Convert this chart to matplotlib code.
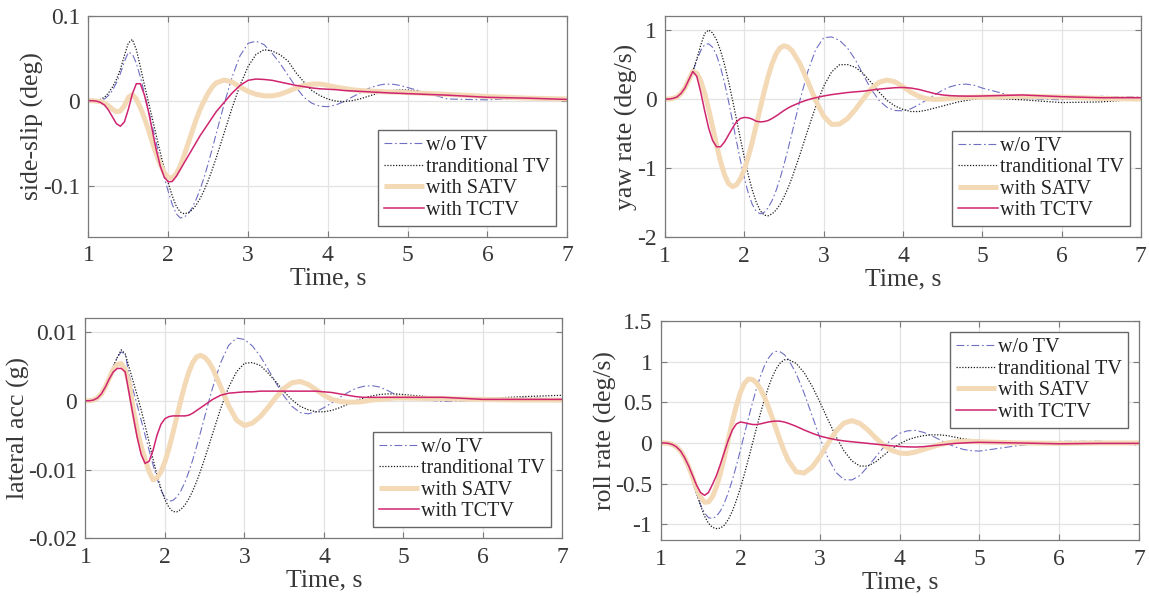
import numpy as np
import matplotlib
matplotlib.use('Agg')
import matplotlib.pyplot as plt

plt.rcParams['font.family'] = ['Liberation Serif', 'DejaVu Serif']

# time grid of the read-off points (s)
t = np.concatenate([np.round(np.arange(1.0, 2.601, 0.05), 2),
                    np.round(np.arange(2.7, 5.001, 0.1), 2),
                    [5.5, 6.0, 6.5, 7.0]])

labels = ['w/o TV', 'tranditional TV', 'with SATV', 'with TCTV']

# side-slip (deg)
slip_wo = [0, 0, 0, 0.0005, 0.002, 0.006, 0.012, 0.021, 0.032, 0.046,
           0.057, 0.055, 0.044, 0.028, 0.009, -0.010, -0.030, -0.050, -0.070, -0.090,
           -0.107, -0.122, -0.133, -0.138, -0.137, -0.133, -0.126, -0.116, -0.104, -0.090,
           -0.074, -0.057, -0.039,
           -0.004, 0.028, 0.053, 0.0675, 0.070, 0.066, 0.056, 0.044, 0.030, 0.016,
           0.004, -0.003, -0.0065, -0.007, -0.005, -0.001, 0.004, 0.009, 0.014, 0.0175,
           0.0193, 0.0196, 0.018, 0.0155,
           0.002, 0.001, 0.003, 0.002]
slip_trad = [0, 0, 0.0005, 0.0015, 0.004, 0.009, 0.016, 0.025, 0.037, 0.053,
             0.068, 0.072, 0.060, 0.040, 0.019, -0.001, -0.021, -0.041, -0.061, -0.080,
             -0.097, -0.112, -0.124, -0.131, -0.133, -0.1318, -0.1284, -0.1227, -0.1149, -0.1053,
             -0.094, -0.0812, -0.0674,
             -0.038, -0.0084, 0.0184, 0.0402, 0.0545, 0.060, 0.0586, 0.0541, 0.0468, 0.033,
             0.022, 0.012, 0.006, 0.002, -0.0005, -0.001, 0.000, 0.002, 0.005, 0.008,
             0.0105, 0.012, 0.0126, 0.0126,
             0.007, 0.003, 0.002, 0.002]
slip_satv = [0, 0, -0.0005, -0.001, -0.003, -0.006, -0.010, -0.013, -0.012, -0.006,
             0.004, 0.007, 0.002, -0.008, -0.020, -0.034, -0.049, -0.063, -0.075, -0.085,
             -0.090, -0.0912, -0.086, -0.077, -0.064, -0.050, -0.036, -0.022, -0.010, 0.000,
             0.009, 0.016, 0.021,
             0.0243, 0.022, 0.016, 0.011, 0.0075, 0.0058, 0.0056, 0.0075, 0.011, 0.015,
             0.018, 0.0195, 0.0196, 0.018, 0.016, 0.0145, 0.013, 0.012, 0.0115, 0.011,
             0.0105, 0.0102, 0.010, 0.0095,
             0.0075, 0.005, 0.003, 0.002]
slip_tctv = [0, 0, -0.0005, -0.002, -0.005, -0.011, -0.019, -0.027, -0.030, -0.025,
             -0.010, 0.008, 0.020, 0.020, 0.007, -0.012, -0.035, -0.058, -0.077, -0.090,
             -0.0955, -0.095, -0.089, -0.081, -0.073, -0.065, -0.057, -0.049, -0.041, -0.034,
             -0.027, -0.020, -0.013,
             -0.002, 0.009, 0.018, 0.024, 0.0255, 0.025, 0.024, 0.022, 0.020, 0.018,
             0.0165, 0.015, 0.014, 0.0135, 0.013, 0.012, 0.0115, 0.011, 0.0105, 0.010,
             0.0095, 0.009, 0.0087, 0.0083,
             0.0065, 0.004, 0.003, 0.0015]

# yaw rate (deg/s)
yaw_wo = [0, 0, 0.005, 0.02, 0.06, 0.13, 0.25, 0.40, 0.56, 0.70,
          0.79, 0.80, 0.75, 0.635, 0.46, 0.235, -0.027, -0.313, -0.605, -0.886,
          -1.143, -1.361, -1.524, -1.625, -1.66, -1.638, -1.573, -1.467, -1.325, -1.149,
          -0.948, -0.727, -0.494,
          -0.023, 0.399, 0.717, 0.888, 0.90, 0.85, 0.74, 0.57, 0.35, 0.14,
          -0.02, -0.12, -0.165, -0.17, -0.14, -0.08, -0.01, 0.06, 0.13, 0.18,
          0.21, 0.217, 0.20, 0.16,
          0.01, -0.01, 0.04, 0.03]
yaw_trad = [0, 0, 0.005, 0.02, 0.06, 0.13, 0.24, 0.40, 0.58, 0.78,
            0.95, 1.00, 0.957, 0.856, 0.702, 0.500, 0.261, -0.006, -0.287, -0.572,
            -0.846, -1.099, -1.316, -1.490, -1.614, -1.679, -1.689, -1.661, -1.606, -1.524,
            -1.417, -1.289, -1.141,
            -0.806, -0.449, -0.107, 0.184, 0.393, 0.497, 0.50, 0.46, 0.37, 0.24,
            0.10, -0.02, -0.10, -0.15, -0.18, -0.18, -0.16, -0.13, -0.10, -0.07,
            -0.04, -0.02, 0.0, 0.02,
            -0.01, -0.05, -0.04, 0.0]
yaw_satv = [0, 0, 0.01, 0.03, 0.08, 0.16, 0.28, 0.40, 0.374, 0.264,
            0.085, -0.146, -0.404, -0.666, -0.904, -1.096, -1.221, -1.267, -1.241, -1.156,
            -1.018, -0.835, -0.618, -0.379, -0.132, 0.109, 0.328, 0.513, 0.653, 0.741,
            0.771, 0.754, 0.703,
            0.516, 0.254, -0.022, -0.246, -0.365, -0.362, -0.283, -0.151, 0.004, 0.147,
            0.245, 0.275, 0.25, 0.18, 0.10, 0.04, 0.005, -0.005, 0.0, 0.01,
            0.02, 0.025, 0.027, 0.03,
            0.04, 0.03, 0.01, 0.0]
yaw_tctv = [0, 0, 0.01, 0.03, 0.08, 0.16, 0.28, 0.40, 0.33, 0.10,
            -0.17, -0.42, -0.60, -0.69, -0.69, -0.62, -0.52, -0.42, -0.33, -0.28,
            -0.265, -0.27, -0.29, -0.32, -0.33, -0.325, -0.31, -0.28, -0.245, -0.205,
            -0.165, -0.13, -0.10,
            -0.05, -0.01, 0.02, 0.045, 0.065, 0.08, 0.095, 0.105, 0.115, 0.13,
            0.145, 0.155, 0.165, 0.168, 0.16, 0.14, 0.11, 0.08, 0.06, 0.05,
            0.045, 0.043, 0.043, 0.045,
            0.06, 0.035, 0.02, 0.02]

# lateral acc (g)
acc_wo = [0, 0, 0.0001, 0.0004, 0.0010, 0.0020, 0.0034, 0.0050, 0.0063, 0.0071,
          0.0068, 0.0037, 0.0015, -0.0006, -0.0028, -0.0050, -0.0072, -0.0093, -0.0113, -0.0130,
          -0.0141, -0.0146, -0.01448, -0.01397, -0.01309, -0.01186, -0.01033, -0.00855, -0.00656, -0.00446,
          -0.0023, -0.00014, 0.00192,
          0.00552, 0.00804, 0.00912, 0.00891, 0.00797, 0.00645, 0.00454, 0.00251, 0.00063, -0.00084,
          -0.00171, -0.0019, -0.0016, -0.0010, -0.0003, 0.0005, 0.0012, 0.0018, 0.0021, 0.0022,
          0.0020, 0.0015, 0.0009, 0.0004,
          -0.0001, 0.0001, 0.0004, 0.0003]
acc_trad = [0, 0, 0.0001, 0.0004, 0.0010, 0.0020, 0.0034, 0.0050, 0.0063, 0.0074,
            0.0068, 0.0048, 0.0028, 0.0008, -0.0013, -0.0036, -0.0060, -0.0085, -0.0108, -0.0128,
            -0.0144, -0.0155, -0.0161, -0.01614, -0.0158, -0.01517, -0.01425, -0.01307, -0.01168, -0.0101,
            -0.00839, -0.00659, -0.00475,
            -0.00116, 0.00195, 0.00421, 0.00545, 0.00555, 0.00512, 0.0040, 0.0027, 0.0013, 0.0001,
            -0.0008, -0.0013, -0.0016, -0.0016, -0.0014, -0.0010, -0.0005, 0.0000, 0.0004, 0.0007,
            0.0009, 0.0010, 0.0010, 0.0009,
            0.0004, 0.0003, 0.0006, 0.0008]
acc_satv = [0, 0, 0.0001, 0.0004, 0.0010, 0.0020, 0.0033, 0.0046, 0.0053, 0.0054,
            0.0045, 0.0025, -0.0012, -0.0042, -0.0066, -0.0085, -0.0103, -0.0115, -0.0112, -0.01031,
            -0.00884, -0.00692, -0.00468, -0.00228, 0.00011, 0.00231, 0.00417, 0.00557, 0.0064, 0.0066,
            0.00631, 0.00566, 0.00468,
            0.00207, -0.00071, -0.00282, -0.0036, -0.00325, -0.00229, -0.00092, 0.00056, 0.00183, 0.00263,
            0.0028, 0.0024, 0.0016, 0.0008, 0.0002, -0.0001, -0.0002, -0.0002, -0.0001, 0.0001,
            0.0002, 0.0003, 0.0004, 0.0004,
            0.0003, 0.0002, 0.0001, 0.0001]
acc_tctv = [0, 0, 0.0001, 0.0004, 0.0010, 0.0020, 0.0032, 0.0042, 0.0047, 0.0047,
            0.0042, 0.0010, -0.0022, -0.0053, -0.0078, -0.0091, -0.0088, -0.0072, -0.0050, -0.0034,
            -0.0026, -0.0023, -0.0022, -0.0022, -0.0022, -0.0022, -0.0021, -0.0018, -0.0014, -0.0010,
            -0.0006, -0.0002, 0.0002,
            0.0008, 0.0011, 0.0012, 0.0013, 0.0013, 0.0014, 0.0014, 0.0014, 0.0014, 0.0014,
            0.0014, 0.0014, 0.0014, 0.0013, 0.0012, 0.0010, 0.0008, 0.0006, 0.0005, 0.0005,
            0.0005, 0.0005, 0.0005, 0.0005,
            0.0005, 0.0002, 0.0002, 0.0002]

# roll rate (deg/s)
roll_wo = [0, 0, -0.005, -0.02, -0.05, -0.11, -0.20, -0.32, -0.47, -0.62,
           -0.76, -0.86, -0.92, -0.93, -0.902, -0.836, -0.737, -0.607, -0.453, -0.278,
           -0.089, 0.107, 0.302, 0.490, 0.663, 0.817, 0.945, 1.042, 1.104, 1.129,
           1.122, 1.089, 1.033,
           0.856, 0.613, 0.335, 0.057, -0.186, -0.363, -0.452, -0.455, -0.40, -0.29,
           -0.17, -0.05, 0.05, 0.12, 0.15, 0.155, 0.13, 0.09, 0.04, -0.01,
           -0.05, -0.08, -0.095, -0.10,
           -0.03, 0.02, 0.02, -0.03]
roll_trad = [0, 0, -0.005, -0.02, -0.05, -0.11, -0.20, -0.32, -0.47, -0.62,
             -0.77, -0.90, -0.99, -1.04, -1.055, -1.049, -1.011, -0.940, -0.838, -0.708,
             -0.555, -0.384, -0.202, -0.0125, 0.177, 0.359, 0.530, 0.683, 0.813, 0.915,
             0.986, 1.024, 1.029,
             0.980, 0.866, 0.700, 0.499, 0.284, 0.078, -0.097, -0.222, -0.284, -0.285,
             -0.23, -0.15, -0.07, -0.01, 0.04, 0.07, 0.09, 0.10, 0.10, 0.09,
             0.07, 0.05, 0.04, 0.03,
             -0.01, 0.0, 0.02, 0.0]
roll_satv = [0, 0, -0.005, -0.02, -0.05, -0.10, -0.18, -0.29, -0.42, -0.56,
             -0.67, -0.73, -0.726, -0.661, -0.539, -0.370, -0.169, 0.0495, 0.265, 0.462,
             0.622, 0.734, 0.787, 0.782, 0.742, 0.670, 0.570, 0.448, 0.311, 0.169,
             0.028, -0.102, -0.213,
             -0.355, -0.370, -0.298, -0.165, -0.0042, 0.145, 0.246, 0.275, 0.24, 0.16,
             0.06, -0.03, -0.09, -0.125, -0.13, -0.11, -0.08, -0.05, -0.02, 0.0,
             0.015, 0.02, 0.02, 0.015,
             0.0, -0.005, 0.0, 0.0]
roll_tctv = [0, 0, -0.005, -0.02, -0.05, -0.10, -0.18, -0.28, -0.40, -0.52,
             -0.61, -0.645, -0.61, -0.51, -0.40, -0.26, -0.11, 0.04, 0.16, 0.235,
             0.258, 0.25, 0.238, 0.228, 0.227, 0.235, 0.247, 0.258, 0.266, 0.27,
             0.268, 0.258, 0.243,
             0.205, 0.16, 0.12, 0.085, 0.06, 0.04, 0.025, 0.015, 0.005, -0.005,
             -0.015, -0.025, -0.035, -0.043, -0.048, -0.05, -0.045, -0.035, -0.025, -0.015,
             -0.005, 0.0, 0.005, 0.008,
             0.0, -0.01, -0.005, -0.005]

panels = [
    dict(series=[slip_wo, slip_trad, slip_satv, slip_tctv], ylabel='side-slip (deg)',
         ylim=(-0.16, 0.1), yticks=[-0.1, 0, 0.1], yticklabels=['-0.1', '0', '0.1'],
         rect=[0.0770, 0.6035, 0.4167, 0.3702], legloc='lower right'),
    dict(series=[yaw_wo, yaw_trad, yaw_satv, yaw_tctv], ylabel='yaw rate (deg/s)',
         ylim=(-2, 1.2), yticks=[-2, -1, 0, 1], yticklabels=['-2', '-1', '0', '1'],
         rect=[0.5788, 0.6025, 0.4141, 0.3704], legloc='lower right'),
    dict(series=[acc_wo, acc_trad, acc_satv, acc_tctv], ylabel='lateral acc (g)',
         ylim=(-0.02, 0.012), yticks=[-0.02, -0.01, 0, 0.01], yticklabels=['-0.02', '-0.01', '0', '0.01'],
         rect=[0.0744, 0.0982, 0.4151, 0.3688], legloc='lower right'),
    dict(series=[roll_wo, roll_trad, roll_satv, roll_tctv], ylabel='roll rate (deg/s)',
         ylim=(-1.2, 1.5), yticks=[-1, -0.5, 0, 0.5, 1, 1.5], yticklabels=['-1', '-0.5', '0', '0.5', '1', '1.5'],
         rect=[0.5750, 0.0948, 0.4162, 0.3672], legloc='upper right'),
]

styles = [
    dict(color='#6f6fc4', lw=0.8, linestyle=(0, (7, 2.5, 1.5, 2.5))),
    dict(color='#1a1a1a', lw=0.9, linestyle=(0, (1, 1.3))),
    dict(color='#f3d9b5', lw=3.6, linestyle='-', solid_capstyle='butt'),
    dict(color='#cf2470', lw=1.1, linestyle='-'),
]

fig = plt.figure(figsize=(11.49, 5.97), dpi=100)
fig.patch.set_facecolor('white')

for p in panels:
    ax = fig.add_axes(p['rect'])
    for y, st, lab in zip(p['series'], styles, labels):
        ax.plot(t, y, label=lab, **st)
    ax.set_xlim(1, 7)
    ax.set_ylim(*p['ylim'])
    ax.set_xticks(range(1, 8))
    ax.set_yticks(p['yticks'])
    ax.set_yticklabels(p['yticklabels'])
    ax.grid(True, color='#e3e3e3', lw=0.9)
    ax.set_axisbelow(True)
    ax.tick_params(direction='in', length=4, width=0.8, top=True, right=True,
                   colors='#7a7a7a', labelcolor='#383838', labelsize=17, pad=6)
    for s in ax.spines.values():
        s.set_color('#7a7a7a')
        s.set_linewidth(0.9)
    ax.set_xlabel('Time, s', fontsize=18.5, color='#383838', labelpad=1)
    ax.set_ylabel(p['ylabel'], fontsize=18.5, color='#383838', labelpad=-1)
    leg = ax.legend(loc=p['legloc'], fontsize=14.5, frameon=True, fancybox=False,
                    framealpha=1, edgecolor='#666666', borderaxespad=0.55,
                    handlelength=2.0, handletextpad=0.1, labelspacing=0.12,
                    borderpad=0.3)
    leg.get_frame().set_linewidth(1.0)
    for txt in leg.get_texts():
        txt.set_color('#222222')

fig.savefig('out.png', dpi=100)
